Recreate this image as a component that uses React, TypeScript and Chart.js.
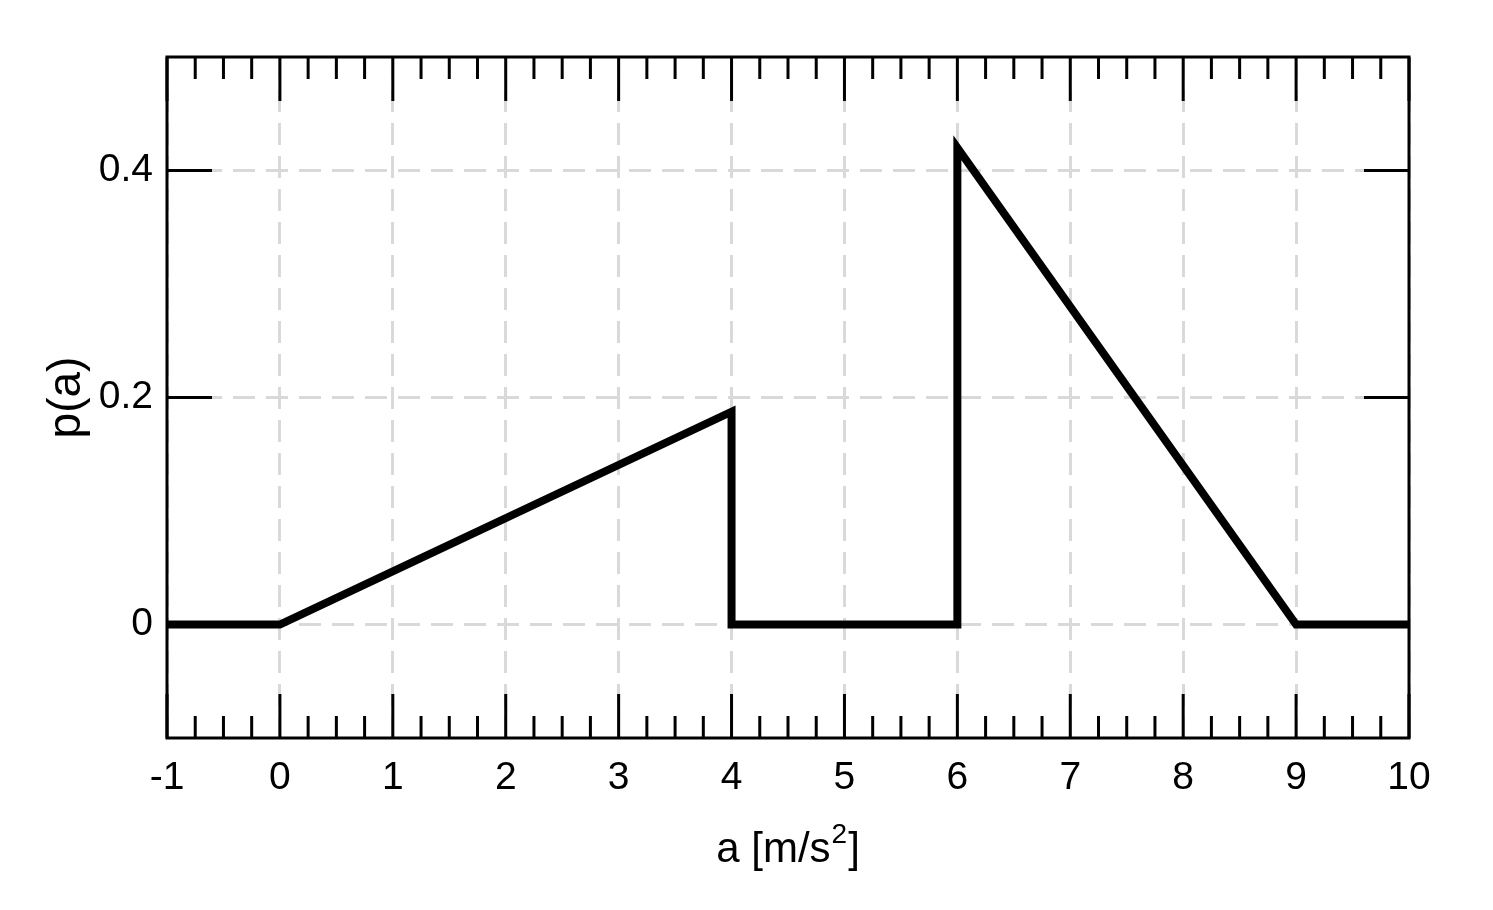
import React, { useEffect, useRef } from "react";
import { Chart, registerables } from "chart.js";

Chart.register(...registerables);

// ---- data ----
const A_VALUES = [-1, 0, 4, 4, 6, 6, 9, 10];
const P_VALUES = [0, 0, 0.1875, 0, 0, 0.42, 0, 0];
const X_TICKS = [-1, 0, 1, 2, 3, 4, 5, 6, 7, 8, 9, 10];
const Y_TICKS = [0, 0.2, 0.4];
const Y_TICK_LABELS = ["0", "0.2", "0.4"];
const X_TITLE_MAIN = "a [m/s";
const X_TITLE_SUP = "2";
const X_TITLE_END = "]";
const Y_TITLE = "p(a)";

const FONT = "'Liberation Sans', Arial, Helvetica, sans-serif";
const X_MINOR_STEP = 0.25;

const frameTicks = {
  id: "frameTicks",
  beforeDatasetsDraw(chart: any) {
    const { ctx, chartArea } = chart;
    const { left, right, top, bottom } = chartArea;
    const x = chart.scales.x;
    const y = chart.scales.y;
    ctx.save();
    ctx.strokeStyle = "#000";
    ctx.lineWidth = 3;
    ctx.lineCap = "butt";
    ctx.setLineDash([]);
    ctx.beginPath();
    for (let v = x.min; v <= x.max + 1e-9; v += X_MINOR_STEP) {
      const px = x.getPixelForValue(v);
      const major = Math.abs(v - Math.round(v)) < 1e-6;
      const len = major ? 44 : 22;
      ctx.moveTo(px, top);
      ctx.lineTo(px, top + len);
      ctx.moveTo(px, bottom);
      ctx.lineTo(px, bottom - len);
    }
    for (const t of y.ticks) {
      const py = y.getPixelForValue(t.value);
      ctx.moveTo(left, py);
      ctx.lineTo(left + 45, py);
      ctx.moveTo(right, py);
      ctx.lineTo(right - 45, py);
    }
    ctx.stroke();
    ctx.strokeRect(left, top, right - left, bottom - top);
    ctx.restore();
  },
  afterDraw(chart: any) {
    const { ctx } = chart;
    const x = chart.scales.x;
    const cx = (x.left + x.right) / 2;
    const baseline = x.bottom - 48;
    const mainFont = `42px ${FONT}`;
    const supFont = `28px ${FONT}`;
    ctx.save();
    ctx.fillStyle = "#000";
    ctx.textBaseline = "alphabetic";
    ctx.textAlign = "left";
    ctx.font = mainFont;
    const w1 = ctx.measureText(X_TITLE_MAIN).width;
    const w3 = ctx.measureText(X_TITLE_END).width;
    ctx.font = supFont;
    const w2 = ctx.measureText(X_TITLE_SUP).width + 2;
    const start = cx - (w1 + w2 + w3) / 2;
    ctx.font = mainFont;
    ctx.fillText(X_TITLE_MAIN, start, baseline);
    ctx.font = supFont;
    ctx.fillText(X_TITLE_SUP, start + w1 + 1, baseline - 19);
    ctx.font = mainFont;
    ctx.fillText(X_TITLE_END, start + w1 + w2, baseline);
    ctx.restore();
  },
};

export default function App() {
  const ref = useRef<HTMLCanvasElement | null>(null);

  useEffect(() => {
    if (!ref.current) return;
    const chart = new Chart(ref.current, {
      type: "line",
      data: {
        datasets: [
          {
            data: A_VALUES.map((a, i) => ({ x: a, y: P_VALUES[i] })),
            borderColor: "#000",
            borderWidth: 8,
            pointRadius: 0,
            tension: 0,
            fill: false,
            borderJoinStyle: "miter",
            borderCapStyle: "butt",
          },
        ],
      },
      options: {
        animation: false,
        responsive: false,
        devicePixelRatio: 1,
        layout: { padding: { top: 57, right: 84, left: 0, bottom: 0 } },
        plugins: { legend: { display: false }, tooltip: { enabled: false } },
        scales: {
          x: {
            type: "linear",
            position: "bottom",
            min: -1,
            max: 10,
            afterFit: (s: any) => {
              s.height = 172;
            },
            afterBuildTicks: (s: any) => {
              s.ticks = X_TICKS.map((v) => ({ value: v }));
            },
            ticks: {
              color: "#000",
              font: { family: FONT, size: 39 },
              padding: 17,
              maxRotation: 0,
              autoSkip: false,
              callback: (v: any) => String(v),
            },
            grid: { color: "#d9d9d9", lineWidth: 3, drawTicks: false },
            border: { display: false, dash: [22, 11] },
            title: { display: false },
          },
          y: {
            type: "linear",
            position: "left",
            min: -0.1,
            max: 0.5,
            afterFit: (s: any) => {
              s.width = 167;
            },
            afterBuildTicks: (s: any) => {
              s.ticks = Y_TICKS.map((v) => ({ value: v }));
            },
            ticks: {
              color: "#000",
              font: { family: FONT, size: 39 },
              padding: 14,
              callback: (v: any) => {
                const i = Y_TICKS.findIndex((t) => Math.abs(t - v) < 1e-9);
                return i >= 0 ? Y_TICK_LABELS[i] : "";
              },
            },
            grid: { color: "#d9d9d9", lineWidth: 3, drawTicks: false },
            border: { display: false, dash: [22, 11] },
            title: {
              display: true,
              text: Y_TITLE,
              color: "#000",
              font: { family: FONT, size: 46 },
              padding: { top: 40, bottom: 0 },
            },
          },
        },
      },
      plugins: [frameTicks],
    } as any);
    return () => chart.destroy();
  }, []);

  return (
    <div style={{ position: "fixed", left: 0, top: 0, width: 1493, height: 910, background: "#fff" }}>
      <canvas ref={ref} width={1493} height={910} style={{ display: "block" }} />
    </div>
  );
}
